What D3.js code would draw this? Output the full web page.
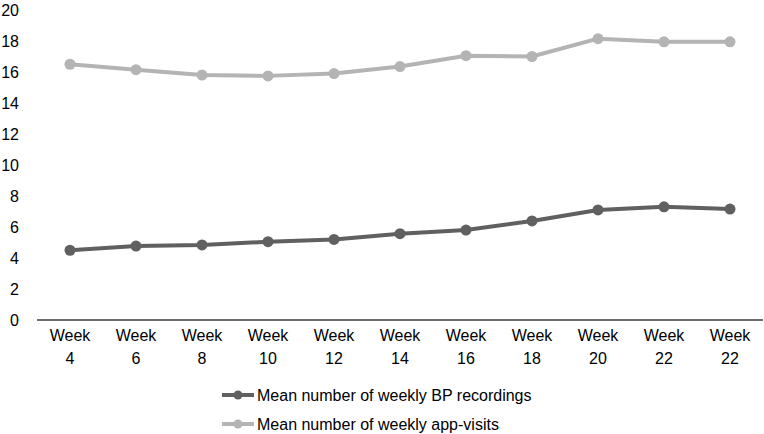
<!DOCTYPE html>
<html><head><meta charset="utf-8">
<script src="https://cdn.jsdelivr.net/npm/d3@7"></script>
<style>body{margin:0;background:#fff}svg{display:block}text{font-family:"Liberation Sans",Arial,sans-serif;fill:#000}</style>
</head><body><svg id="c" width="764" height="434"></svg>
<script>
const categories = ["Week 4","Week 6","Week 8","Week 10","Week 12","Week 14","Week 16","Week 18","Week 20","Week 22","Week 22b"];
const categoryLabels = [["Week","4"],["Week","6"],["Week","8"],["Week","10"],["Week","12"],["Week","14"],["Week","16"],["Week","18"],["Week","20"],["Week","22"],["Week","22"]];
const bpRecordings = [4.5, 4.77, 4.84, 5.05, 5.2, 5.57, 5.8, 6.39, 7.1, 7.3, 7.16];
const appVisits = [16.5, 16.15, 15.8, 15.75, 15.9, 16.35, 17.05, 17.0, 18.15, 17.95, 17.95];
const seriesNames = ["Mean number of weekly BP recordings","Mean number of weekly app-visits"];
const yTicks = [0,2,4,6,8,10,12,14,16,18,20];

const svg = d3.select("#c");
const x = d3.scaleBand().domain(categories).range([37, 763]);
const y = d3.scaleLinear().domain([0,20]).range([320, 10]);

svg.append("g").selectAll("text").data(yTicks).join("text")
  .attr("x", 19).attr("y", d => y(d)).attr("dy","0.35em")
  .attr("text-anchor","end").style("font-size","16px").text(d => d);

svg.append("line").attr("x1", 37).attr("x2", 763).attr("y1", y(0)).attr("y2", y(0))
  .attr("stroke","#3a3a3a").attr("stroke-width",1.5);

const xl = svg.append("g").selectAll("text").data(categories).join("text")
  .attr("x", d => x(d) + x.bandwidth()/2).attr("text-anchor","middle").style("font-size","16px");
xl.append("tspan").attr("x", d => x(d) + x.bandwidth()/2).attr("y", 341).text((d,i)=>categoryLabels[i][0]);
xl.append("tspan").attr("x", d => x(d) + x.bandwidth()/2).attr("y", 364).text((d,i)=>categoryLabels[i][1]);

const colors = ["#606060","#b4b4b4"];
const series = [bpRecordings, appVisits];
const line = d3.line().x((d,i)=>x(categories[i]) + x.bandwidth()/2).y(d=>y(d));

series.forEach((s, k) => {
  const g = svg.append("g");
  g.append("path").attr("d", line(s)).attr("fill","none").attr("stroke",colors[k]).attr("stroke-width",4).attr("stroke-linejoin","round");
  g.selectAll("circle").data(s).join("circle")
    .attr("cx",(d,i)=>x(categories[i]) + x.bandwidth()/2).attr("cy",d=>y(d)).attr("r",5.5).attr("fill",colors[k]);
});

const lg = svg.append("g");
seriesNames.forEach((n,k) => {
  const yy = 395 + k*29;
  lg.append("line").attr("x1",222).attr("x2",254).attr("y1",yy).attr("y2",yy).attr("stroke",colors[k]).attr("stroke-width",4);
  lg.append("circle").attr("cx",238).attr("cy",yy).attr("r",4.5).attr("fill",colors[k]);
  lg.append("text").attr("x",257).attr("y",yy).attr("dy","0.35em").style("font-size","16px").text(n);
});
</script></body></html>
